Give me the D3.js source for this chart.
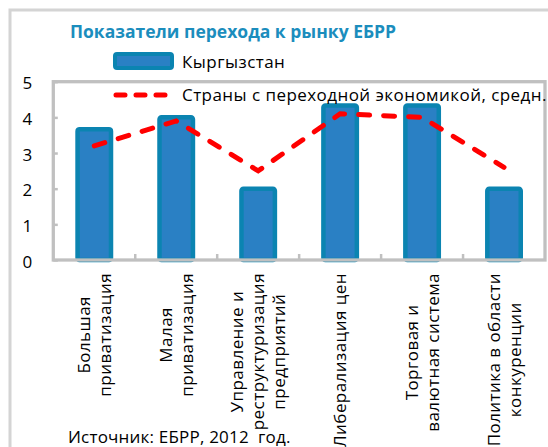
<!DOCTYPE html>
<html>
<head>
  <meta charset="utf-8">
  <style>
    body { margin: 0; background: #fff; }
    svg { display: block; font-family: "Open Sans", sans-serif; }
  </style>
</head>
<body>
  <div id="chart"></div>
  <script src="https://d3js.org/d3.v7.min.js"></script>
  <script>
    // data
    var categories = [
      ["Большая", "приватизация"],
      ["Малая", "приватизация"],
      ["Управление и", "реструктуризация", "предприятий"],
      ["Либерализация цен"],
      ["Торговая и", "валютная система"],
      ["Политика в области", "конкуренции"]
    ];
    var kyrgyzstan = [3.67, 4.0, 2.0, 4.33, 4.33, 2.0];
    var transitionAvg = [3.2, 3.9, 2.5, 4.1, 4.0, 2.6];
    var yTicks = [0, 1, 2, 3, 4, 5];
    var seriesNames = ["Кыргызстан", "Страны с переходной экономикой, средн."];
    var title = "Показатели перехода к рынку ЕБРР";
    var source = "Источник: ЕБРР, 2012  год.";

    var W = 548, H = 447;
    var plot = {left: 53.3, right: 545, top: 81.7, bottom: 260};
    var barFill = "#2a80c4", barStroke = "#0b84b1";
    var gridGray = "#c0c0c0";
    var spacing = "0.45px";

    var svg = d3.select("#chart").append("svg")
        .attr("width", W)
        .attr("height", H);

    // outer chart frame
    svg.append("rect")
        .attr("x", 10).attr("y", 10)
        .attr("width", 600).attr("height", 500)
        .attr("fill", "#fff")
        .attr("stroke", "#d4d4d4")
        .attr("stroke-width", 3);

    var keys = categories.map((d, i) => "c" + i);

    var x = d3.scaleBand()
        .domain(keys)
        .range([plot.left, plot.right])
        .paddingInner(0.537)
        .paddingOuter(0.537 / 2);

    var y = d3.scaleLinear()
        .domain([0, 5])
        .range([plot.bottom, plot.top]);

    // bars
    var bw = x.bandwidth();
    svg.append("g").selectAll("rect")
        .data(kyrgyzstan)
        .join("rect")
        .attr("x", (d, i) => x(keys[i]) + 2.25)
        .attr("width", bw - 4.5)
        .attr("y", d => y(d))
        .attr("height", d => plot.bottom - y(d))
        .attr("rx", 2)
        .attr("fill", barFill)
        .attr("stroke", barStroke)
        .attr("stroke-width", 4.5);

    // plot area border
    svg.append("rect")
        .attr("x", plot.left).attr("y", plot.top)
        .attr("width", plot.right - plot.left)
        .attr("height", plot.bottom - plot.top)
        .attr("fill", "none")
        .attr("stroke", gridGray)
        .attr("stroke-width", 3.3);

    // y axis (ticks point inside)
    var yAxis = svg.append("g")
        .attr("transform", "translate(" + plot.left + ",0)")
        .call(d3.axisLeft(y).tickValues(yTicks).tickFormat(d3.format("d"))
          .tickSizeInner(-4.5).tickSizeOuter(0).tickPadding(21));
    yAxis.select(".domain").remove();
    yAxis.selectAll(".tick line").attr("stroke", gridGray).attr("stroke-width", 2.5);
    yAxis.selectAll(".tick text")
        .attr("font-family", "Open Sans")
        .attr("font-size", 17)
        .attr("fill", "#000")
        .attr("dy", "0.42em");

    // category boundary ticks on x axis
    var gap = x.step() - bw;
    svg.append("g").selectAll("line")
        .data(keys.slice(1))
        .join("line")
        .attr("x1", d => x(d) - gap / 2)
        .attr("x2", d => x(d) - gap / 2)
        .attr("y1", plot.bottom)
        .attr("y2", plot.bottom - 6)
        .attr("stroke", gridGray)
        .attr("stroke-width", 2.5);

    // average line
    var line = d3.line()
        .x((d, i) => x(keys[i]) + bw / 2)
        .y(d => y(d));

    svg.append("path")
        .datum(transitionAvg)
        .attr("d", line)
        .attr("fill", "none")
        .attr("stroke", "#ff0000")
        .attr("stroke-width", 5)
        .attr("stroke-linecap", "round")
        .attr("stroke-dasharray", "11,14");

    // category labels, rotated
    var lh = 21;
    var labels = svg.append("g")
        .attr("font-size", 17)
        .attr("letter-spacing", spacing)
        .attr("fill", "#000");

    categories.forEach(function(lines, i) {
      var cx = x(keys[i]) + bw / 2;
      var g = labels.append("g");
      var texts = lines.map(function(t, j) {
        return g.append("text")
            .attr("text-anchor", "middle")
            .attr("x", 0)
            .attr("y", (j - (lines.length - 1) / 2) * lh + 6)
            .text(t);
      });
      var maxLen = d3.max(texts, t => t.node().getComputedTextLength());
      g.attr("transform", "translate(" + cx + "," + (273 + maxLen / 2) + ") rotate(-90)");
    });

    // title
    svg.append("text")
        .attr("x", 70).attr("y", 38)
        .attr("font-size", 17.5)
        .attr("font-weight", "bold")
        .attr("fill", "#1b8dbd")
        .text(title);

    // legend
    var legend = svg.append("g")
        .attr("font-size", 17)
        .attr("letter-spacing", spacing)
        .attr("fill", "#000");
    legend.append("rect")
        .attr("x", 115).attr("y", 54)
        .attr("width", 57).attr("height", 14)
        .attr("rx", 2)
        .attr("fill", barFill)
        .attr("stroke", barStroke)
        .attr("stroke-width", 4);
    legend.append("text").attr("x", 182).attr("y", 68).text(seriesNames[0]);
    legend.append("line")
        .attr("x1", 116).attr("x2", 172)
        .attr("y1", 95).attr("y2", 95)
        .attr("stroke", "#ff0000")
        .attr("stroke-width", 5)
        .attr("stroke-linecap", "round")
        .attr("stroke-dasharray", "9,11");
    legend.append("text").attr("x", 182).attr("y", 101).text(seriesNames[1]);

    // source
    svg.append("text")
        .attr("x", 68).attr("y", 443)
        .attr("font-size", 17)
        .attr("letter-spacing", "0.2px")
        .attr("fill", "#000")
        .style("white-space", "pre")
        .text(source);
  </script>
</body>
</html>
